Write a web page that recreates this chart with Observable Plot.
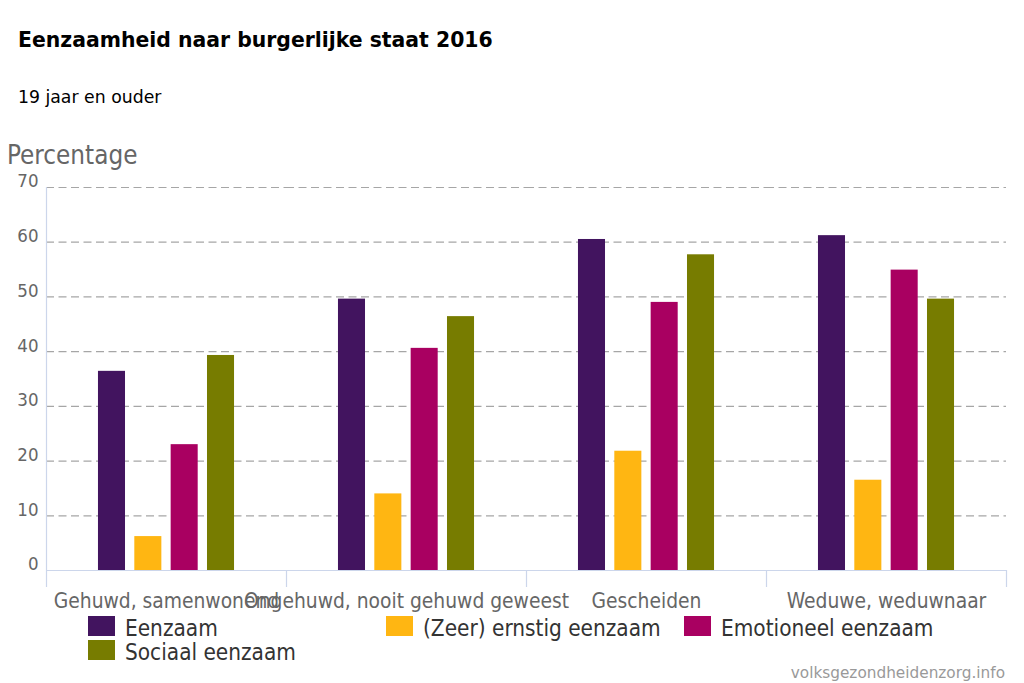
<!DOCTYPE html>
<html>
<head>
<meta charset="utf-8">
<script src="https://cdn.jsdelivr.net/npm/d3@7"></script>
<script src="https://cdn.jsdelivr.net/npm/@observablehq/plot@0.6"></script>
<style>
  html, body { margin: 0; padding: 0; background: #fff; }
  #wrap { position: relative; width: 1024px; height: 683px; overflow: hidden; }
  .cond { font-family: "DejaVu Sans Condensed", "DejaVu Sans", sans-serif; font-stretch: condensed; }
  #title { position: absolute; left: 18px; top: 28px; font: bold 20.4px/24px "DejaVu Sans", sans-serif; color: #000; white-space: nowrap; }
  #subtitle { position: absolute; left: 18px; top: 87px; font: 17.3px/20px "DejaVu Sans", sans-serif; color: #000; white-space: nowrap; }
  #ylabel { position: absolute; left: 7px; top: 141px; font-size: 25.8px; line-height: 28px; color: #666; white-space: nowrap; z-index: 1; }
  #chart { position: absolute; left: 0; top: 160px; }
  #legend { position: absolute; left: 88px; top: 616px; width: 920px; display: flex; flex-wrap: wrap; }
  .item { width: 298px; height: 24px; display: flex; align-items: flex-start; font-size: 22.4px; line-height: 24px; color: #333; white-space: nowrap; }
  .sw { width: 27px; height: 20px; margin-right: 10px; flex: none; }
  #caption { position: absolute; right: 19px; top: 664px; font: 15.3px/18px "DejaVu Sans", sans-serif; color: #999; white-space: nowrap; }
</style>
</head>
<body>
<div id="wrap">
  <div id="title">Eenzaamheid naar burgerlijke staat 2016</div>
  <div id="subtitle">19 jaar en ouder</div>
  <div id="chart"></div>
  <div id="ylabel" class="cond">Percentage</div>
  <div id="legend" class="cond"></div>
  <div id="caption">volksgezondheidenzorg.info</div>
</div>
<script>
// ---- data ----
const categories = ["Gehuwd, samenwonend", "Ongehuwd, nooit gehuwd geweest", "Gescheiden", "Weduwe, weduwnaar"];
const series = ["Eenzaam", "(Zeer) ernstig eenzaam", "Emotioneel eenzaam", "Sociaal eenzaam"];
const eenzaam = [36.4, 49.6, 60.5, 61.2];
const zeerErnstigEenzaam = [6.2, 14.0, 21.8, 16.5];
const emotioneelEenzaam = [23.0, 40.6, 49.0, 54.9];
const sociaalEenzaam = [39.3, 46.4, 57.7, 49.6];
const yTicks = [0, 10, 20, 30, 40, 50, 60, 70];
const colors = ["#42145f", "#ffb612", "#a90061", "#777c00"];

// ---- table ----
const valuesBySeries = [eenzaam, zeerErnstigEenzaam, emotioneelEenzaam, sociaalEenzaam];
const table = [];
categories.forEach((c, i) => {
  series.forEach((s, j) => table.push({category: c, series: s, value: valuesBySeries[j][i]}));
});

// ---- layout ----
const W = 1024, H = 452, mL = 46, mR = 18, mT = 27, mB = 42;
const facetW = (W - mL - mR) / categories.length;
const axisColor = "#ccd6eb";

const chart = Plot.plot({
  width: W, height: H,
  marginLeft: mL, marginRight: mR, marginTop: mT, marginBottom: mB,
  style: {fontFamily: "'DejaVu Sans Condensed', 'DejaVu Sans', sans-serif", fontStretch: "condensed", background: "transparent", overflow: "visible"},
  fx: {domain: categories, padding: 0, axis: null, round: false},
  x: {domain: series, paddingInner: 0.256, paddingOuter: 1.43, axis: null, round: false},
  y: {domain: [0, 70], axis: null},
  color: {domain: series, range: colors},
  marks: [
    Plot.ruleY(yTicks.filter(d => d > 0), {stroke: "#a6a6a6", strokeWidth: 1.2, strokeDasharray: "8,4.5"}),
    Plot.barY(table, {fx: "category", x: "series", y: "value", fill: "series"}),
    Plot.ruleY([0], {stroke: axisColor, strokeWidth: 1.2}),
    // category boundary ticks below the baseline
    Plot.ruleX(categories, {fx: d => d, x: null, y1: 0, y2: 0, insetBottom: -17, dx: -facetW / 2, stroke: axisColor, strokeWidth: 1.2}),
    Plot.ruleX(categories.slice(-1), {fx: d => d, x: null, y1: 0, y2: 0, insetBottom: -17, dx: facetW / 2, stroke: axisColor, strokeWidth: 1.2}),
    // y axis line
    Plot.ruleX(categories.slice(0, 1), {fx: d => d, x: null, y1: 0, y2: 70, dx: -facetW / 2, stroke: axisColor, strokeWidth: 1.2}),
    Plot.axisY({ticks: yTicks, tickSize: 0, tickPadding: 8, dy: -6, fontSize: 18.5, fontFamily: "DejaVu Sans", fill: "#666", label: null}),
    Plot.axisFx({anchor: "bottom", tickSize: 0, tickPadding: 23, fontSize: 20.8, fill: "#666", label: null})
  ]
});
document.getElementById("chart").appendChild(chart);

// ---- legend ----
const legend = document.getElementById("legend");
series.forEach((s, i) => {
  const item = document.createElement("div");
  item.className = "item";
  const sw = document.createElement("span");
  sw.className = "sw";
  sw.style.background = colors[i];
  const t = document.createElement("span");
  t.textContent = s;
  item.appendChild(sw);
  item.appendChild(t);
  legend.appendChild(item);
});
</script>
</body>
</html>
